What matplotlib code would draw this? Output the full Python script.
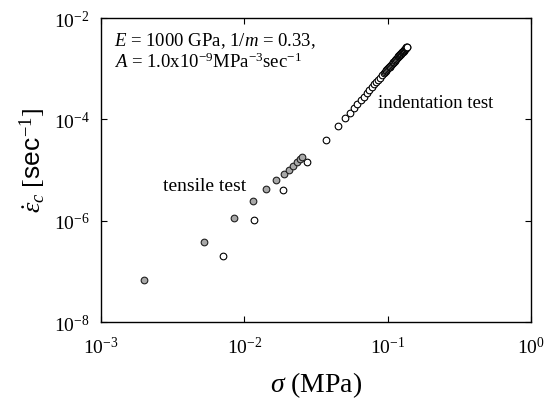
import matplotlib
matplotlib.use("Agg")
import matplotlib.pyplot as plt
from matplotlib.ticker import FixedLocator, FixedFormatter, NullLocator

plt.rcParams['font.family'] = ['Liberation Serif', 'DejaVu Serif']
plt.rcParams['mathtext.fontset'] = 'custom'
plt.rcParams['mathtext.rm'] = 'Liberation Serif'
plt.rcParams['mathtext.it'] = 'Liberation Serif:italic'
plt.rcParams['mathtext.bf'] = 'Liberation Serif:bold'
plt.rcParams['mathtext.sf'] = 'Liberation Sans'

# tensile test (gray filled)
tensile_sigma = [0.0020, 0.00526, 0.00848, 0.0115, 0.01426, 0.0167, 0.01882,
                 0.0206, 0.0220, 0.0232, 0.0245, 0.0252]
tensile_rate = [6.65e-8, 3.8e-7, 1.13e-6, 2.41e-6, 4.2e-6, 6.27e-6, 8.3e-6,
                1.01e-5, 1.22e-5, 1.42e-5, 1.65e-5, 1.78e-5]

# open circles (computed / indentation)
open_sigma = [0.00706, 0.01175, 0.01862, 0.02754,
              0.0372, 0.0451, 0.0505, 0.0542, 0.0578, 0.0612, 0.0648, 0.0680,
              0.0713, 0.0742, 0.0773, 0.0804, 0.0830, 0.0857, 0.0885, 0.0914,
              0.0940, 0.0953, 0.0966, 0.0980, 0.0993, 0.1006, 0.1019, 0.1031,
              0.1044, 0.1056, 0.1069, 0.1081, 0.1094, 0.1105, 0.1117, 0.1128,
              0.1140, 0.1152, 0.1164, 0.1175, 0.1186, 0.1197, 0.1208, 0.1217,
              0.1227, 0.1237, 0.1247, 0.1256, 0.1265, 0.1273, 0.1282, 0.1290,
              0.1298, 0.1305, 0.1313, 0.1320, 0.1327, 0.1333, 0.1340, 0.1345,
              0.1351, 0.1355, 0.1358]
open_rate = [2.04e-7, 1.03e-6, 4.08e-6, 1.42e-5,
             3.96e-5, 7.41e-5, 1.07e-4, 1.36e-4, 1.67e-4, 2.01e-4, 2.41e-4, 2.82e-4,
             3.31e-4, 3.76e-4, 4.29e-4, 4.89e-4, 5.43e-4, 6.03e-4, 6.69e-4, 7.43e-4,
             8.18e-4, 8.54e-4, 8.91e-4, 9.33e-4, 9.76e-4, 1.02e-3, 1.06e-3, 1.10e-3,
             1.15e-3, 1.19e-3, 1.24e-3, 1.29e-3, 1.34e-3, 1.38e-3, 1.43e-3, 1.48e-3,
             1.53e-3, 1.58e-3, 1.63e-3, 1.68e-3, 1.74e-3, 1.79e-3, 1.84e-3, 1.89e-3,
             1.94e-3, 1.99e-3, 2.04e-3, 2.09e-3, 2.14e-3, 2.18e-3, 2.23e-3, 2.27e-3,
             2.32e-3, 2.36e-3, 2.41e-3, 2.45e-3, 2.50e-3, 2.54e-3, 2.58e-3, 2.61e-3,
             2.64e-3, 2.67e-3, 2.70e-3]

x_ticks = [1e-3, 1e-2, 1e-1, 1e0]
x_labels = ['10$^{-3}$', '10$^{-2}$', '10$^{-1}$', '10$^{0}$']
y_ticks = [1e-8, 1e-6, 1e-4, 1e-2]
y_labels = ['10$^{-8}$', '10$^{-6}$', '10$^{-4}$', '10$^{-2}$']

fig = plt.figure(figsize=(5.46, 4.02), dpi=100)
ax = fig.add_axes([0.185, 0.1965, 0.7875, 0.7562])
ax.set_xscale('log')
ax.set_yscale('log')
ax.set_xlim(1e-3, 1e0)
ax.set_ylim(1e-8, 1e-2)

ax.plot(open_sigma, open_rate, 'o', ms=4.8, mfc='white', mec='black', mew=0.8,
        linestyle='none', zorder=3)
ax.plot(tensile_sigma, tensile_rate, 'o', ms=4.8, mfc='#a8a8a8', mec='#202020',
        mew=0.8, linestyle='none', zorder=4)

ax.xaxis.set_major_locator(FixedLocator(x_ticks))
ax.xaxis.set_major_formatter(FixedFormatter(x_labels))
ax.yaxis.set_major_locator(FixedLocator(y_ticks))
ax.yaxis.set_major_formatter(FixedFormatter(y_labels))
ax.xaxis.set_minor_locator(NullLocator())
ax.yaxis.set_minor_locator(NullLocator())
ax.tick_params(which='major', direction='in', length=4, width=0.8,
               top=True, right=True, labelsize=14)
ax.tick_params(axis='x', pad=10)
ax.tick_params(axis='y', pad=8)
for s in ax.spines.values():
    s.set_linewidth(1.0)

ax.set_xlabel(r'$\mathit{\sigma}$ (MPa)', fontsize=20, labelpad=9)
ax.set_ylabel(r'$\dot{\varepsilon}_c$ [$\mathsf{sec}^{-1}$]', fontsize=19)
ax.yaxis.set_label_coords(-0.123, 0.535)

ax.text(0.03, 0.96, r'$E$ = 1000 GPa, 1/$m$ = 0.33,', transform=ax.transAxes,
        fontsize=13.5, va='top', ha='left')
ax.text(0.03, 0.89, r'$A$ = 1.0x10$^{-9}$MPa$^{-3}$sec$^{-1}$', transform=ax.transAxes,
        fontsize=13.5, va='top', ha='left')
ax.text(0.144, 0.448, 'tensile test', transform=ax.transAxes, fontsize=14,
        va='center', ha='left')
ax.text(0.644, 0.723, 'indentation test', transform=ax.transAxes, fontsize=13.5,
        va='center', ha='left')

fig.savefig('out.png', dpi=100)
